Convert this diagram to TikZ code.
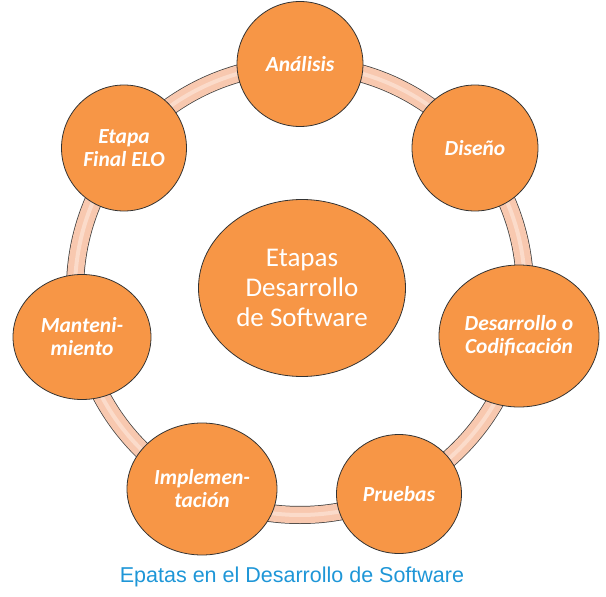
\documentclass[tikz,border=0pt]{standalone}
\usepackage{fontspec}
\usetikzlibrary{shapes.geometric}
\newfontfamily\calibri{Carlito}
\newfontfamily\arialfont{Liberation Sans}
\definecolor{stageorange}{RGB}{247,150,70}
\definecolor{ringpeach}{RGB}{248,200,175}
\definecolor{ringlight}{RGB}{253,232,220}
\definecolor{captionblue}{RGB}{30,150,215}
\tikzset{
  stage/.style={ellipse, draw=black!80, line width=0.8pt, fill=stageorange, text=white, align=center, inner sep=0pt, font=\calibri\bfseries\itshape\fontsize{21.5}{23}\selectfont},
  hub/.style={stage, font=\calibri\fontsize{27}{30}\selectfont},
}
\begin{document}
\begin{tikzpicture}[x=1pt,y=-1pt]
\useasboundingbox (0,0) rectangle (606,597);
% ring behind the stages
\coordinate (mid) at (300,290);
\draw[black!75, line width=18pt] (mid) circle[radius=225pt];
\draw[ringpeach, line width=16.5pt] (mid) circle[radius=225pt];
\draw[ringlight, line width=4pt, opacity=0.6] (mid) circle[radius=225pt];
% centre
\node[hub, minimum width=207pt, minimum height=177pt] (hub) at (302,288) {Etapas\\Desarrollo\\de Software};
% stages round the ring
\node[stage, minimum width=126pt, minimum height=125pt] (analisis) at (300,64) {Análisis};
\node[stage, minimum width=126pt, minimum height=126pt] (diseno) at (475,148) {Diseño};
\node[stage, minimum width=160pt, minimum height=142pt] (codif) at (519,336) {Desarrollo o\\Codificación};
\node[stage, minimum width=125pt, minimum height=119pt] (pruebas) at (399,494) {Pruebas};
\node[stage, minimum width=150pt, minimum height=132pt] (implem) at (202,489) {Implemen-\\tación};
\node[stage, minimum width=138pt, minimum height=125pt] (manten) at (82,337) {Manteni-\\miento};
\node[stage, minimum width=125pt, minimum height=126pt] (elo) at (124,148) {Etapa\\Final ELO};
% caption
\node[font=\arialfont\fontsize{21.5}{24}\selectfont, text=captionblue] (caption) at (292,577) {Epatas en el Desarrollo de Software};
\end{tikzpicture}
\end{document}
